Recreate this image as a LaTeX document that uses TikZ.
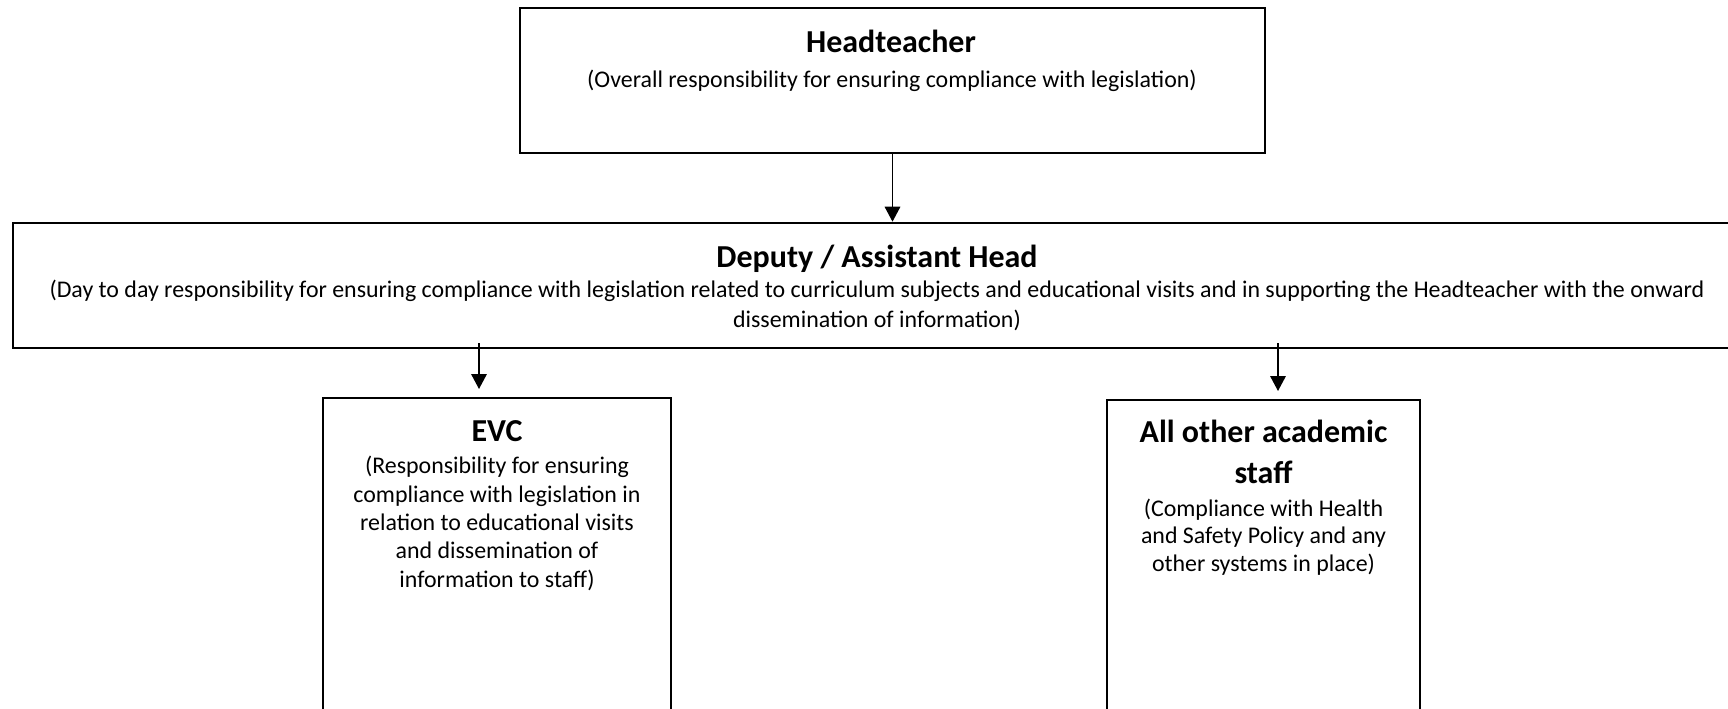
\documentclass[tikz,border=0pt]{standalone}
\usepackage{fontspec}
\setmainfont{Carlito}
\usetikzlibrary{arrows.meta}

\tikzset{
  box/.style={draw, rectangle, line width=1.5pt, inner sep=0pt},
  arr/.style={-{Triangle[length=0.3cm,width=0.31cm]}, line width=1pt},
  ttl/.style={anchor=base, align=center, inner sep=0pt, font=\fontsize{18.2}{23.3}\selectfont\bfseries},
  txt/.style={anchor=base, align=center, inner sep=0pt, font=\fontsize{13.6}{16.1}\selectfont},
}

\begin{document}
\begin{tikzpicture}[x=0.02cm, y=-0.02cm]
      \clip (0,0) rectangle (1728,708);
      % boxes
      \node[box, minimum width=14.9cm, minimum height=2.9cm] (head) at (892.5,80.5) {};
      \node[box, minimum width=34.56cm, minimum height=2.5cm] (deputy) at (877,285.5) {}; % runs off the right edge
      \node[box, minimum width=6.96cm, minimum height=7.4cm] (evc) at (497,583) {}; % bottom cut off
      \node[box, minimum width=6.26cm, minimum height=7.4cm] (staff) at (1263.5,585) {};
      % texts (anchored on the baseline of the last line)
      \node[ttl] (headttl) at (891,52) {Headteacher};
      \node[txt] (headtxt) at (892,87) {(Overall responsibility for ensuring compliance with legislation)};
      \node[ttl] (deputyttl) at (877,267) {Deputy / Assistant Head};
      \node[txt, font=\fontsize{13.6}{17}\selectfont] (deputytxt) at (877,327) {(Day to day responsibility for ensuring compliance with legislation related to curriculum subjects and educational visits and in supporting the Headteacher with the onward\\dissemination of information)};
      \node[ttl] (evcttl) at (497,441) {EVC};
      \node[txt] (evctxt) at (497,587) {(Responsibility for ensuring\\compliance with legislation in\\relation to educational visits\\and dissemination of\\information to staff)};
      \node[ttl] (staffttl) at (1263.5,483) {All other academic\\staff};
      \node[txt, font=\fontsize{13.6}{15.6}\selectfont] (stafftxt) at (1263.5,571) {(Compliance with Health\\and Safety Policy and any\\other systems in place)};
      % arrows
      \coordinate (evcin) at (479,389);
      \coordinate (staffin) at (1278,391);
      \draw[arr] (head.south) -- (head.south |- deputy.north);
      \draw[arr] ([yshift=0.12cm]deputy.south -| evcin) -- (evcin);
      \draw[arr] ([yshift=0.12cm]deputy.south -| staffin) -- (staffin);
\end{tikzpicture}
\end{document}
